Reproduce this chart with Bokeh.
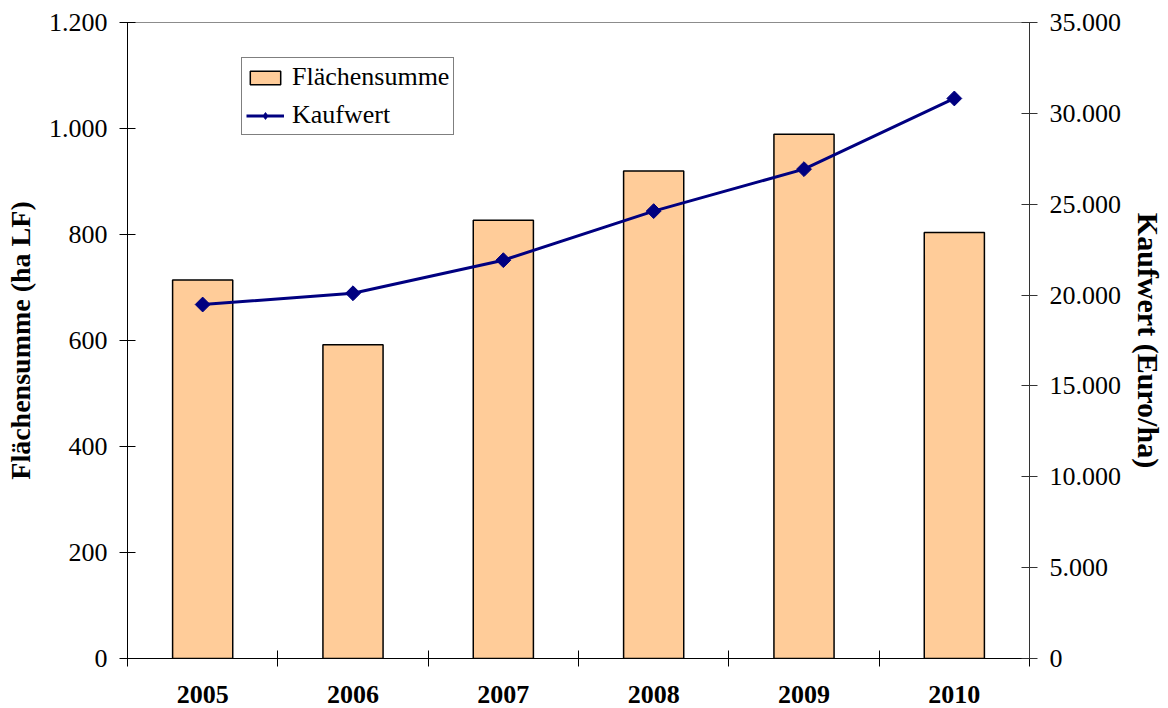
from bokeh.plotting import figure
from bokeh.models import (Range1d, LinearAxis, FixedTicker, Legend, LegendItem,
                          ColumnDataSource)
from bokeh.embed import file_html
from bokeh.resources import INLINE
import math

# ---- data ----
years = ["2005", "2006", "2007", "2008", "2009", "2010"]
flaechensumme = [714, 592, 827, 920, 989, 804]          # ha LF
kaufwert = [19480, 20100, 21920, 24620, 26930, 30820]    # Euro/ha
left_ticks = [0, 200, 400, 600, 800, 1000, 1200]
right_ticks = [0, 5000, 10000, 15000, 20000, 25000, 30000, 35000]

def de_fmt(v):
    return f"{v:,}".replace(",", ".")

xpos = list(range(len(years)))
src = ColumnDataSource(dict(x=xpos, year=years, flaeche=flaechensumme, kauf=kaufwert))

FONT = "Liberation Serif"

p = figure(width=1168, height=708, output_backend="svg", toolbar_location=None,
           x_range=Range1d(-0.5, len(years) - 0.5), y_range=Range1d(0, 1200),
           min_border_left=127, min_border_right=136, min_border_top=22,
           min_border_bottom=50, x_axis_type=None, y_axis_type=None)
p.grid.visible = False
p.outline_line_color = "#8c8c8c"
p.outline_line_width = 1
p.background_fill_color = "white"
p.border_fill_color = "white"

p.extra_y_ranges = {"kauf": Range1d(0, 35000)}

# bottom axis: labels at centres, crossing ticks at category boundaries
xax = LinearAxis(ticker=FixedTicker(ticks=xpos,
                                    minor_ticks=[i - 0.5 for i in range(len(years) + 1)]))
xax.major_label_overrides = {i: y for i, y in zip(xpos, years)}
xax.major_tick_in = 0
xax.major_tick_out = 0
xax.minor_tick_in = 8
xax.minor_tick_out = 8
xax.minor_tick_line_color = "black"
xax.axis_line_color = "black"
xax.major_label_text_font = FONT
xax.major_label_text_font_style = "bold"
xax.major_label_text_font_size = "26px"
xax.major_label_text_color = "black"
xax.major_label_standoff = 19
p.add_layout(xax, "below")

# left axis
yax = LinearAxis(ticker=FixedTicker(ticks=left_ticks, minor_ticks=[]),
                 axis_label="Flächensumme (ha LF)")
yax.major_label_overrides = {t: de_fmt(t) for t in left_ticks}
yax.major_tick_in = 8
yax.major_tick_out = 8
yax.major_tick_line_color = "black"
yax.axis_line_color = "black"
yax.major_label_text_font = FONT
yax.major_label_text_font_size = "26px"
yax.major_label_text_color = "black"
yax.major_label_standoff = 12
yax.axis_label_text_font = FONT
yax.axis_label_text_font_style = "bold"
yax.axis_label_text_font_size = "28px"
yax.axis_label_text_color = "black"
yax.axis_label_standoff = 10
p.add_layout(yax, "left")

# right axis
rax = LinearAxis(y_range_name="kauf", ticker=FixedTicker(ticks=right_ticks, minor_ticks=[]),
                 axis_label="Kaufwert (Euro/ha)")
rax.major_label_overrides = {t: de_fmt(t) for t in right_ticks}
rax.major_tick_in = 8
rax.major_tick_out = 8
rax.major_tick_line_color = "#333333"
rax.axis_line_color = "#333333"
rax.major_label_text_font = FONT
rax.major_label_text_font_size = "26px"
rax.major_label_text_color = "black"
rax.major_label_standoff = 12
rax.axis_label_text_font = FONT
rax.axis_label_text_font_style = "bold"
rax.axis_label_text_font_size = "30px"
rax.axis_label_text_color = "black"
rax.axis_label_standoff = 8
p.add_layout(rax, "right")

bars = p.vbar(x="x", top="flaeche", width=0.4, bottom=0, source=src,
              fill_color="#FFCC99", line_color="black", line_width=1.5)
line = p.line(x="x", y="kauf", source=src, y_range_name="kauf",
              line_color="#000080", line_width=3)
marks = p.scatter(x="x", y="kauf", source=src, y_range_name="kauf",
                  marker="square", angle=math.pi / 4, size=10.5,
                  fill_color="#000080", line_color="#000080")
# legend-only diamond (legend ignores marker angle)
leg_marks = p.scatter(x="x", y="kauf", source=src, y_range_name="kauf",
                      marker="diamond", size=14, fill_color="#000080",
                      line_color="#000080", visible=False)

legend = Legend(items=[LegendItem(label="Flächensumme", renderers=[bars]),
                       LegendItem(label="Kaufwert", renderers=[line, leg_marks])],
                location=(114, 523))
legend.label_text_font = FONT
legend.label_text_font_size = "26px"
legend.label_text_color = "black"
legend.glyph_width = 38
legend.glyph_height = 17
legend.label_standoff = 8
legend.padding = 4
legend.spacing = 8
legend.margin = 0
legend.border_line_color = "black"
legend.border_line_width = 1
legend.background_fill_color = "white"
legend.background_fill_alpha = 1
p.add_layout(legend, "center")

open("out.html", "w").write(file_html(p, INLINE))
